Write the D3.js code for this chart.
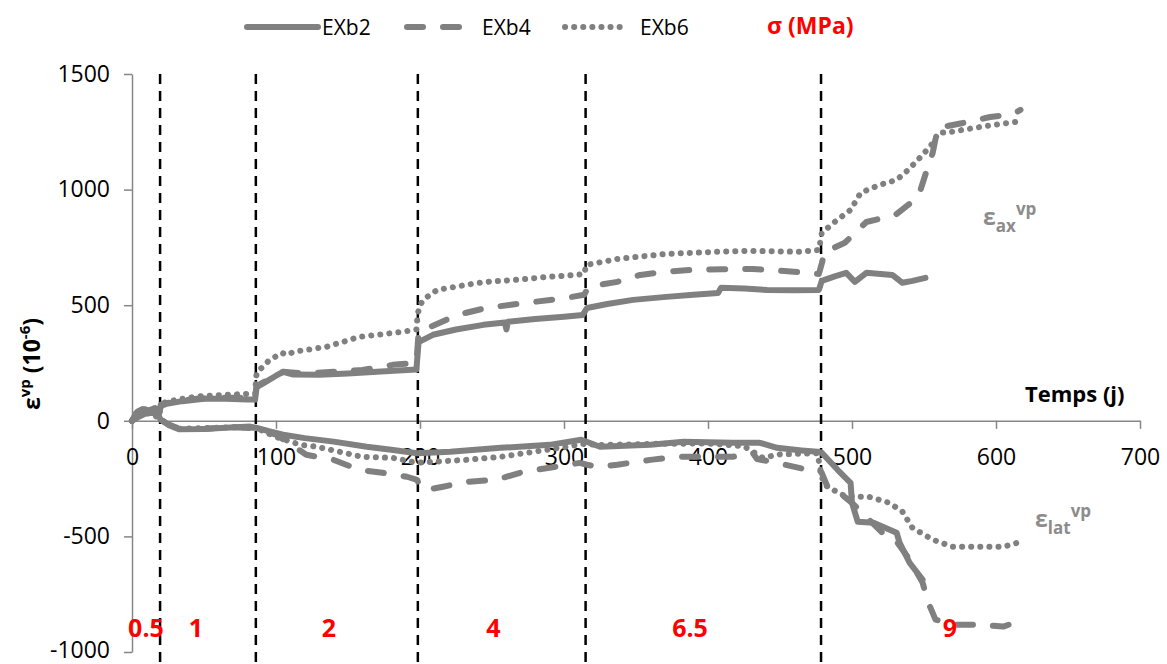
<!DOCTYPE html>
<html><head><meta charset="utf-8">
<script src="https://cdn.jsdelivr.net/npm/d3@7"></script>
<style>
html,body{margin:0;padding:0;background:#fff;}
svg{display:block;font-family:"Open Sans",sans-serif;}
</style></head>
<body><svg id="c" width="1167" height="664"></svg>
<script>
// ---- data ----
const xTicks = [0,100,200,300,400,500,600,700];
const yTicks = [-1000,-500,0,500,1000,1500];
const stressDays = [19.5, 86, 198.5, 315, 478.5];
const stressLabels = ["0.5","1","2","4","6.5","9"];
const stressLabelDays = [9.7, 44.4, 136.8, 251, 387.5, 568];
const seriesNames = ["EXb2","EXb4","EXb6"];

const exb2Axial = [[0,0],[3,35],[7,50],[12,45],[16,55],[19,35],[20,65],[25,75],[35,85],[50,95],[65,95],[80,92],[85.5,92],[86.5,145],[92,165],[100,195],[105,212],[112,200],[130,199],[150,205],[170,212],[185,218],[197.5,222],[199,340],[209,372],[225,395],[244,415],[259,425],[260,395],[261,428],[280,440],[300,450],[313,458],[316,488],[330,505],[348,523],[371,536],[390,545],[407,553],[409,575],[425,572],[441,566],[460,565],[477,566],[479,605],[488,625],[496,640],[502,601],[510,640],[520,635],[528,631],[535,597],[542,605],[551,618]];
const exb4Axial = [[0,0],[4,40],[9,55],[14,45],[19,30],[20,70],[30,85],[45,95],[60,100],[75,100],[85.5,98],[86.5,150],[95,180],[105,212],[120,205],[140,212],[160,220],[181,242],[197.5,250],[199,380],[207,406],[226,458],[246,488],[262,501],[279,514],[302,532],[314,545],[317,580],[337,601],[353,631],[370,645],[390,653],[410,655],[431,657],[450,649],[469,640],[477,635],[479,680],[481,730],[495,770],[510,860],[530,890],[546,968],[552,1085],[556,1158],[559,1249],[563,1271],[577,1288],[596,1314],[612,1327],[617,1345]];
const exb6Axial = [[0,0],[4,35],[9,50],[14,55],[19,40],[20,75],[30,90],[45,105],[60,110],[75,115],[85.5,118],[86.5,207],[95,260],[104,294],[108,285],[112,298],[135,320],[158,363],[188,385],[197.5,395],[198.5,467],[201,510],[205,536],[212,566],[232,588],[246,601],[267,610],[290,623],[309,631],[314,635],[315.5,674],[337,700],[371,722],[406,731],[429,735],[464,731],[477,739],[479,813],[488,860],[499,912],[506,986],[519,1020],[531,1042],[539,1085],[549,1150],[555,1193],[560,1245],[568,1249],[589,1271],[614,1293],[618,1300]];

const exb2Lateral = [[0,0],[4,15],[9,30],[14,35],[18,25],[20,5],[26,-20],[33,-37],[50,-35],[65,-30],[82,-25],[86,-30],[95,-45],[105,-60],[120,-75],[140,-90],[163,-112],[180,-125],[198,-140],[221,-134],[256,-117],[290,-104],[312,-82],[325,-112],[360,-104],[383,-91],[417,-95],[436,-95],[448,-117],[465,-128],[476,-134],[479,-138],[490,-212],[499,-268],[500,-355],[504,-437],[515,-441],[531,-484],[533,-527],[540,-614],[549,-687]];
const exb4Lateral = [[0,0],[4,20],[9,35],[14,30],[19,10],[25,-15],[33,-35],[50,-35],[70,-28],[86,-32],[100,-60],[110,-100],[121,-147],[140,-169],[158,-212],[174,-225],[191,-242],[198,-255],[200,-285],[205,-298],[216,-285],[232,-264],[253,-255],[272,-220],[290,-203],[311,-182],[316,-190],[323,-199],[337,-190],[360,-169],[378,-156],[417,-156],[431,-138],[434,-165],[448,-182],[469,-212],[477,-212],[479,-225],[483,-285],[493,-320],[500,-355],[521,-484],[530,-514],[540,-600],[549,-700],[553,-787],[558,-860],[570,-882],[589,-882],[605,-890],[617,-865]];
const exb6Lateral = [[0,0],[4,20],[9,35],[14,30],[19,10],[25,-15],[33,-35],[50,-32],[70,-28],[86,-30],[100,-70],[117,-104],[128,-112],[144,-134],[160,-156],[181,-160],[198,-182],[209,-177],[232,-169],[256,-156],[279,-134],[302,-112],[313,-100],[325,-105],[360,-100],[400,-98],[425,-110],[438,-160],[450,-145],[476,-140],[479,-242],[481,-277],[493,-320],[503,-329],[512,-329],[526,-355],[535,-393],[542,-463],[556,-514],[570,-545],[589,-545],[605,-545],[615,-527]];

// ---- chart ----
const svg = d3.select("#c");
const gray = "#808080";
const axisGray = "#868686";
const x = d3.scaleLinear().domain([0,700]).range([132,1140]);
const y = d3.scaleLinear().domain([-1000,1500]).range([652,74]);

const styles = {
  EXb2: {dash: null, cap: "round"},
  EXb4: {dash: "16 20", cap: "round"},
  EXb6: {dash: "0.1 9", cap: "round"}
};
const fmt = d => String(d);

// axes
const yAxis = svg.append("g").attr("transform","translate(132,0)")
  .call(d3.axisLeft(y).tickValues(yTicks).tickFormat(fmt).tickSize(8).tickSizeOuter(0).tickPadding(14));
yAxis.select(".domain").attr("stroke",axisGray).attr("stroke-width",1.5);
yAxis.selectAll(".tick line").attr("stroke",axisGray).attr("stroke-width",1.5);
yAxis.selectAll("text").attr("font-size",23).attr("fill","#000").attr("font-family","Open Sans")
  .attr("dy", d => d === -1000 ? "0.22em" : "0.32em");

const xAxis = svg.append("g").attr("transform",`translate(0,${y(0)})`)
  .call(d3.axisBottom(x).tickValues(xTicks).tickFormat(fmt).tickSize(8).tickSizeOuter(0));
xAxis.select(".domain").attr("stroke",axisGray).attr("stroke-width",1.5);
xAxis.selectAll(".tick line").attr("stroke",axisGray).attr("stroke-width",1.5);
xAxis.selectAll("text").attr("font-size",23).attr("fill","#000").attr("font-family","Open Sans")
  .attr("y",44).attr("dy",0);

// stress boundaries
svg.append("g").selectAll("line").data(stressDays).join("line")
  .attr("x1",d=>x(d)).attr("x2",d=>x(d))
  .attr("y1",y(1500)).attr("y2",664)
  .attr("stroke","#000").attr("stroke-width",2.5).attr("stroke-dasharray","10 7");

// curves
const line = d3.line().x(d=>x(d[0])).y(d=>y(d[1]));
const curves = [
  ["EXb2", exb2Axial],["EXb4", exb4Axial],["EXb6", exb6Axial],
  ["EXb2", exb2Lateral],["EXb4", exb4Lateral],["EXb6", exb6Lateral]
];
curves.forEach(([name, data])=>{
  const s = styles[name];
  svg.append("path").datum(data).attr("d",line)
    .attr("fill","none").attr("stroke",gray).attr("stroke-width",6)
    .attr("stroke-linecap",s.cap).attr("stroke-linejoin","round")
    .attr("stroke-dasharray",s.dash);
});

// stress labels
svg.append("g").selectAll("text").data(stressLabels).join("text")
  .attr("x",(d,i)=>x(stressLabelDays[i])).attr("y",637)
  .attr("text-anchor","middle").attr("font-size",25).attr("font-weight","bold")
  .attr("fill","#ff0000").text(d=>d);

// legend
const legendX = [[247,318,322],[407,478,482],[565,627,640]];
seriesNames.forEach((n,i)=>{
  const [a,b,t] = legendX[i];
  svg.append("line").attr("x1",a).attr("x2",b).attr("y1",27).attr("y2",27)
    .attr("stroke",gray).attr("stroke-width",6).attr("stroke-linecap","round")
    .attr("stroke-dasharray",styles[n].dash);
  svg.append("text").attr("x",t).attr("y",35).attr("font-size",21).attr("fill","#000").text(n);
});
svg.append("text").attr("x",767).attr("y",34).attr("font-size",23).attr("font-weight","bold")
  .attr("fill","#ff0000").text("σ (MPa)");

// axis titles
svg.append("text").attr("x",1025).attr("y",402).attr("font-size",22).attr("font-weight","bold")
  .attr("fill","#000").text("Temps (j)");

const yl = svg.append("text").attr("transform","translate(40,364) rotate(-90)")
  .attr("text-anchor","middle").attr("font-size",23).attr("font-weight","bold").attr("fill","#000");
yl.append("tspan").text("ε");
yl.append("tspan").attr("font-size",15).attr("dy",-10).text("vp");
yl.append("tspan").attr("dy",10).text(" (10");
yl.append("tspan").attr("font-size",15).attr("dy",-10).text("-6");
yl.append("tspan").attr("dy",10).text(")");

// curve annotations
function epsLabel(x0, yb, sub){
  const t = svg.append("text").attr("x",x0).attr("y",yb).attr("font-weight","bold").attr("fill","#8c8c8c");
  t.append("tspan").attr("font-size",23).text("ε");
  t.append("tspan").attr("font-size",17).attr("dy",7).text(sub);
  t.append("tspan").attr("font-size",17).attr("dy",-17).text("vp");
}
epsLabel(983, 225, "ax");
epsLabel(1035, 527, "lat");
</script></body></html>
